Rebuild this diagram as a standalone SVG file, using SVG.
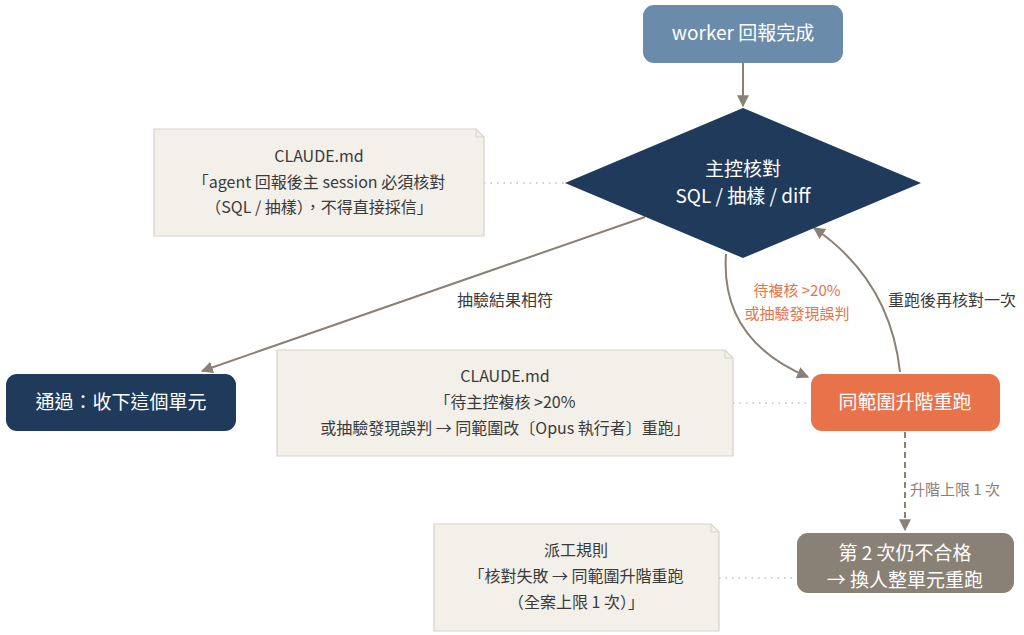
<svg xmlns="http://www.w3.org/2000/svg" width="1024" height="635" viewBox="0 0 1024 635">
<style>
text{font-family:"Noto Sans CJK TC","Noto Sans",sans-serif;text-anchor:middle}
.w{fill:#fff;font-size:19px}
.n{fill:#3a3a3a;font-size:16px}
.note{fill:#f3f0ea;stroke:#d8d3ca;stroke-width:1.2}
.c{fill:none;stroke:#8a8176;stroke-width:2}
.d{fill:none;stroke:#c5bfb5;stroke-width:1.5;stroke-dasharray:1.5 5}
</style>
<defs><marker id="a" viewBox="0 0 10 10" refX="9" refY="5" markerWidth="6" markerHeight="6" orient="auto"><path d="M0,0L10,5L0,10z" fill="#8a8176"/></marker></defs>
<rect width="1024" height="635" fill="#fff"/>
<g id="connectors">
<line class="c" x1="743" y1="63" x2="743" y2="106" marker-end="url(#a)"/>
<line class="c" x1="645" y1="217" x2="202" y2="371" marker-end="url(#a)"/>
<path class="c" d="M726,254 Q720,340 808,377" marker-end="url(#a)"/>
<path class="c" d="M900,372 Q890,280 814,228" marker-end="url(#a)"/>
<line class="c" x1="905" y1="432" x2="905" y2="530" stroke-dasharray="6 4" marker-end="url(#a)"/>
<line class="d" x1="484" y1="183" x2="565" y2="183"/>
<line class="d" x1="733" y1="403" x2="811" y2="403"/>
<line class="d" x1="719" y1="578" x2="797" y2="578"/>
<text x="505" y="306" class="n" font-size="15">抽驗結果相符</text>
<text x="797" y="296" fill="#e8734a" font-size="15">待複核 &gt;20%</text>
<text x="797" y="319" fill="#e8734a" font-size="15">或抽驗發現誤判</text>
<text x="952" y="306" class="n" font-size="15">重跑後再核對一次</text>
<text x="955" y="495" fill="#8a8176" font-size="15">升階上限 1 次</text>
</g>
<g id="worker"><rect x="643" y="5" width="200" height="58" rx="11" fill="#6a8caa"/><text x="743" y="40" class="w">worker 回報完成</text></g>
<g id="check"><path d="M743,108L921,183L743,258L565,183z" fill="#1f3a5a"/><text x="743" y="176" class="w">主控核對</text><text x="743" y="203" class="w">SQL / 抽樣 / diff</text></g>
<g id="note1"><path class="note" d="M154,129H476L484,137V236H154z"/><path d="M476,129V137H484" fill="none" stroke="#d8d3ca"/><text x="319" y="162" class="n">CLAUDE.md</text><text x="319" y="188" class="n">「agent 回報後主 session 必須核對</text><text x="319" y="213" class="n">（SQL / 抽樣），不得直接採信」</text></g>
<g id="pass"><rect x="6" y="374" width="230" height="57" rx="11" fill="#1f3a5a"/><text x="121" y="409" class="w">通過：收下這個單元</text></g>
<g id="note2"><path class="note" d="M277,350H725L733,358V456H277z"/><path d="M725,350V358H733" fill="none" stroke="#d8d3ca"/><text x="505" y="382" class="n">CLAUDE.md</text><text x="505" y="408" class="n">「待主控複核 &gt;20%</text><text x="505" y="434" class="n">或抽驗發現誤判 → 同範圍改〔Opus 執行者〕重跑」</text></g>
<g id="rerun"><rect x="811" y="374" width="189" height="57" rx="11" fill="#e8734a"/><text x="905" y="409" class="w">同範圍升階重跑</text></g>
<g id="note3"><path class="note" d="M434,524H711L719,532V631H434z"/><path d="M711,524V532H719" fill="none" stroke="#d8d3ca"/><text x="576" y="556" class="n">派工規則</text><text x="576" y="582" class="n">「核對失敗 → 同範圍升階重跑</text><text x="576" y="608" class="n">（全案上限 1 次）」</text></g>
<g id="final"><rect x="797" y="533" width="217" height="60" rx="11" fill="#8a8176"/><text x="905" y="560" class="w">第 2 次仍不合格</text><text x="905" y="587" class="w">→ 換人整單元重跑</text></g>
</svg>
